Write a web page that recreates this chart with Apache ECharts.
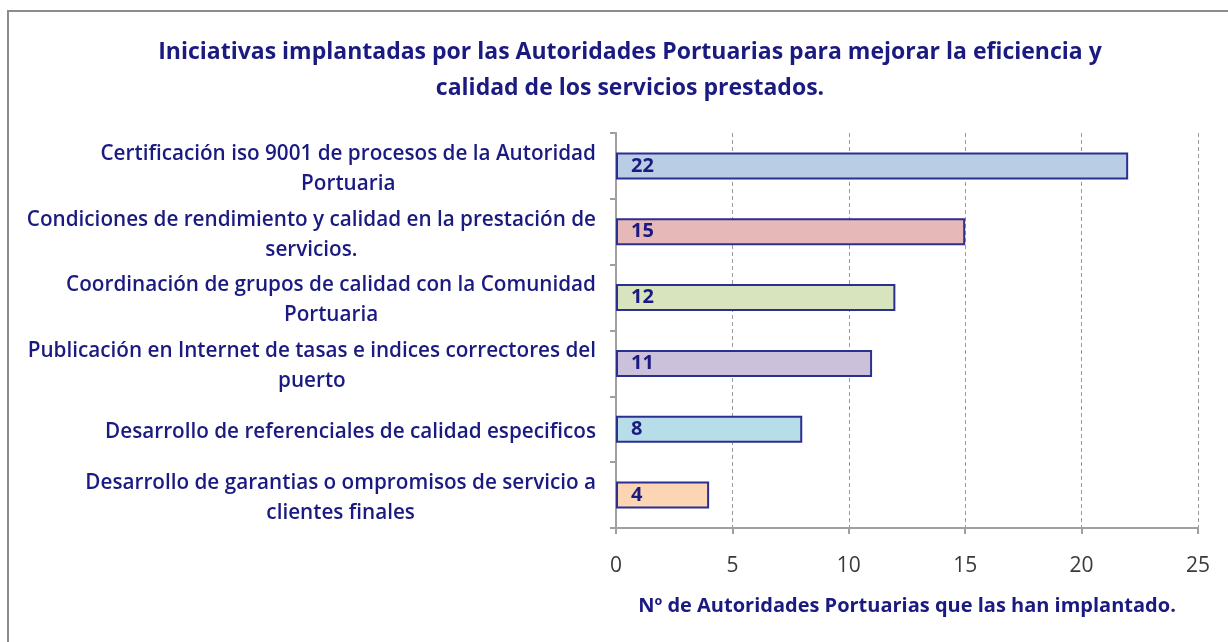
<!DOCTYPE html>
<html>
<head>
<meta charset="utf-8">
<script src="https://cdn.jsdelivr.net/npm/echarts@6/dist/echarts.min.js"></script>
<style>
html, body { margin: 0; padding: 0; background: #fff; }
#frame { position: absolute; left: 7px; top: 10px; width: 1240px; height: 650px; border-left: 2px solid #8c8c8c; border-top: 2px solid #8c8c8c; }
#chart { position: absolute; left: 0; top: 0; width: 1228px; height: 642px; }
</style>
</head>
<body>
<div id="frame"></div>
<div id="chart"></div>
<script>
// datos del grafico
const titleText = "Iniciativas implantadas por las Autoridades Portuarias para mejorar la eficiencia y\ncalidad de los servicios prestados.";
const axisName = "Nº de Autoridades Portuarias que las han implantado.";
const categories = [
    "Certificación iso 9001 de procesos de la Autoridad\nPortuaria",
    "Condiciones de rendimiento y calidad en la prestación de\nservicios.",
    "Coordinación de grupos de calidad con la Comunidad\nPortuaria",
    "Publicación en Internet de tasas e indices correctores del\npuerto",
    "Desarrollo de referenciales de calidad especificos",
    "Desarrollo de garantias o ompromisos de servicio a\nclientes finales"
];
const values = [22, 15, 12, 11, 8, 4];
const barColors = ['#B9CDE5', '#E6B9B8', '#D7E4BD', '#CCC1DA', '#B7DEE8', '#FCD5B5'];
const xTicks = [0, 5, 10, 15, 20, 25];

const navy = '#1a1a80';
const font = 'Open Sans';

let chart = echarts.init(document.getElementById('chart'));
let options = {
    title: {
        text: titleText,
        left: 625,
        top: 29,
        textAlign: 'center',
        textStyle: {
            fontFamily: font,
            fontSize: 23,
            fontWeight: 'bold',
            color: navy,
            lineHeight: 36
        }
    },
    grid: {
        left: 616,
        right: 30,
        top: 133,
        bottom: 114
    },
    xAxis: {
        type: 'value',
        min: xTicks[0],
        max: xTicks[xTicks.length - 1],
        interval: 5,
        name: axisName,
        nameLocation: 'middle',
        nameGap: 68,
        nameTextStyle: {
            fontFamily: font,
            fontSize: 20,
            fontWeight: 'bold',
            color: navy
        },
        axisLine: { show: true, lineStyle: { color: '#a0a0a0', width: 2 } },
        axisTick: { show: true, length: 6, lineStyle: { color: '#a0a0a0', width: 2 } },
        axisLabel: {
            margin: 28,
            fontFamily: font,
            fontSize: 21,
            color: '#3a3a3a'
        },
        splitLine: {
            show: true,
            lineStyle: { color: '#9a9a9a', type: [4, 3], width: 1 }
        }
    },
    yAxis: {
        type: 'category',
        inverse: true,
        data: categories,
        axisLine: { show: true, lineStyle: { color: '#a0a0a0', width: 2 } },
        axisTick: { show: true, length: 6, lineStyle: { color: '#a0a0a0', width: 2 } },
        axisLabel: {
            margin: 20,
            align: 'right',
            padding: [6, 0, 0, 0],
            formatter: function(v) {
                return v.split('\n').map(l => '{c|' + l + '}').join('\n');
            },
            rich: {
                c: {
                    align: 'center',
                    fontFamily: font,
                    fontSize: 20.7,
                    fontWeight: 600,
                    color: navy,
                    lineHeight: 30
                }
            }
        }
    },
    series: [{
        type: 'bar',
        data: values.map((v, i) => ({
            value: v,
            itemStyle: { color: barColors[i] }
        })),
        barWidth: 27,
        itemStyle: {
            borderColor: '#2b2f8f',
            borderWidth: 2
        },
        label: {
            show: true,
            position: 'insideLeft',
            distance: 15,
            fontFamily: font,
            fontSize: 20,
            fontWeight: 'bold',
            color: navy
        }
    }]
};
chart.setOption(options);
</script>
</body>
</html>
